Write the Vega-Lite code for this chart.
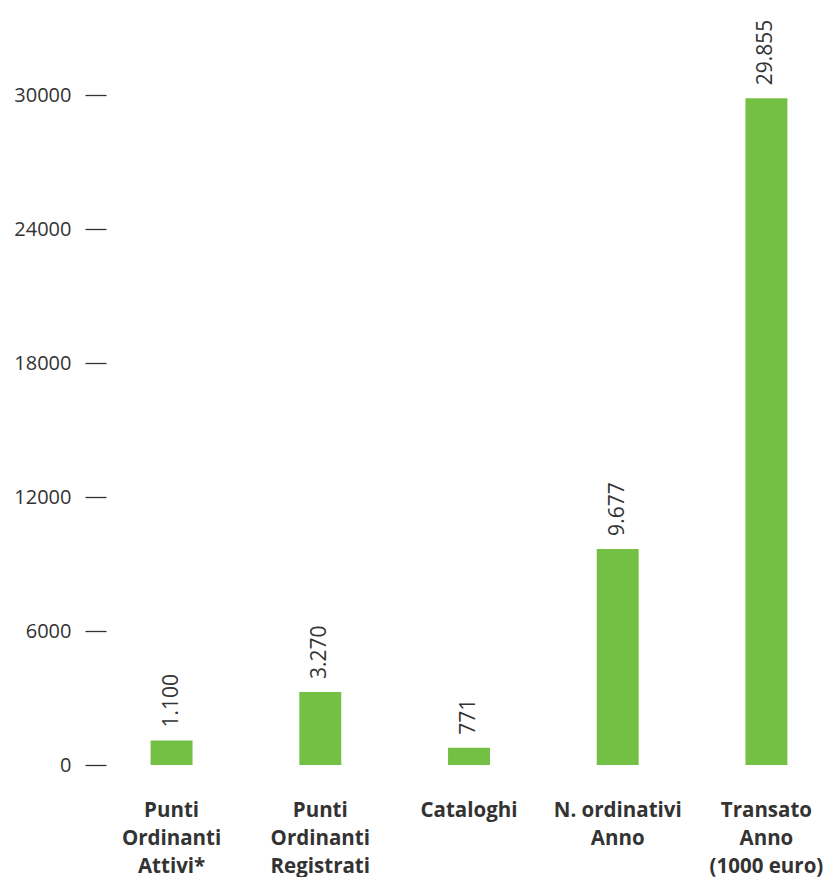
{
  "$schema": "https://vega.github.io/schema/vega-lite/v6.json",
  "width": 726,
  "height": 670,
  "padding": {"left": 13, "top": 19, "right": 0, "bottom": 0},
  "background": "white",
  "config": {
    "view": {"stroke": null},
    "font": "Open Sans"
  },
  "data": {
    "values": [
      {"categoria": "Punti|Ordinanti|Attivi*", "valore": 1100, "etichetta": "1.100"},
      {"categoria": "Punti|Ordinanti|Registrati", "valore": 3270, "etichetta": "3.270"},
      {"categoria": "Cataloghi", "valore": 771, "etichetta": "771"},
      {"categoria": "N. ordinativi|Anno", "valore": 9677, "etichetta": "9.677"},
      {"categoria": "Transato|Anno|(1000 euro)", "valore": 29855, "etichetta": "29.855"}
    ]
  },
  "encoding": {
    "x": {
      "field": "categoria",
      "type": "nominal",
      "sort": null,
      "scale": {"paddingInner": 0.718, "paddingOuter": 0.3},
      "axis": {
        "title": null,
        "labelAngle": 0,
        "labelExpr": "split(datum.label, '|')",
        "labelFont": "Open Sans",
        "labelFontWeight": "bold",
        "labelFontSize": 20.5,
        "labelLineHeight": 28,
        "labelColor": "#333333",
        "labelPadding": 35,
        "labelBaseline": "top",
        "ticks": false,
        "domain": false
      }
    },
    "y": {
      "field": "valore",
      "type": "quantitative",
      "scale": {"domain": [0, 30000], "nice": false},
      "axis": {
        "title": null,
        "values": [0, 6000, 12000, 18000, 24000, 30000],
        "format": "d",
        "grid": false,
        "domain": false,
        "tickSize": 21,
        "tickColor": "#333333",
        "tickWidth": 1.3,
        "labelFont": "Open Sans",
        "labelFontSize": 20,
        "labelColor": "#333333",
        "labelPadding": 14
      }
    }
  },
  "layer": [
    {"mark": {"type": "bar", "color": "#74c044"}},
    {
      "mark": {
        "type": "text",
        "angle": 270,
        "align": "left",
        "baseline": "middle",
        "dx": 13,
        "font": "Open Sans",
        "fontSize": 21,
        "color": "#333333"
      },
      "encoding": {"text": {"field": "etichetta"}}
    }
  ]
}
